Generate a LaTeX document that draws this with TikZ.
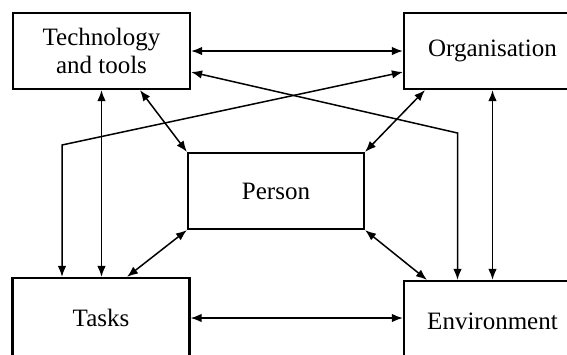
\documentclass[tikz,border=0pt]{standalone}
\usepackage{fontspec}
\setmainfont{Liberation Serif}
\usetikzlibrary{arrows.meta,positioning}

\begin{document}
\begin{tikzpicture}[x=1pt,y=-1pt,
    factor/.style={draw,line width=2.2pt,minimum width=177pt,minimum height=76pt,
        align=center,inner sep=0pt,font=\fontsize{25}{28}\selectfont},
    link/.style={line width=1.5pt,{Latex[length=11pt,width=8.5pt]}-{Latex[length=11pt,width=8.5pt]}}]
    \useasboundingbox (0,0) rectangle (567,354);
    \clip (0,0) rectangle (567,354);

    \node [factor] (tech) at (101.5,51) {Technology\\and tools};
    \node [factor] (org) at (492.5,51) {Organisation};
    \node [factor,minimum width=176pt] (person) at (276,191) {Person};
    \node [factor,minimum height=80pt] (tasks) at (101,318) {\raisebox{-5pt}{Tasks}};
    \node [factor,minimum height=80pt] (env) at (492.5,321) {\raisebox{-5pt}{Environment}};

    \coordinate (bendW) at (62,145);
    \coordinate (bendE) at (457.5,133);

    % links between the factors
    \draw [link] (tech.east) -- (org.west);
    \draw [link] (tasks.east) -- (tasks.east -| env.west);
    \draw [link] (tech.south) -- (tech.south |- tasks.north);
    \draw [link] (org.south) -- (org.south |- env.north);
    \draw [link] ([xshift=38.5pt]tech.south) -- (person.north west);
    \draw [link] ([xshift=-67.5pt]org.south) -- (person.north east);
    \draw [link] (person.south west) -- ([xshift=26pt]tasks.north);
    \draw [link] (person.south east) -- ([xshift=-65.5pt]env.north);

    % crossing links
    \draw [link] ([yshift=-21pt]tech.east) -- (bendE) -- (bendE |- env.north);
    \draw [link] ([yshift=-21pt]org.west) -- (bendW) -- (bendW |- tasks.north);
\end{tikzpicture}
\end{document}
